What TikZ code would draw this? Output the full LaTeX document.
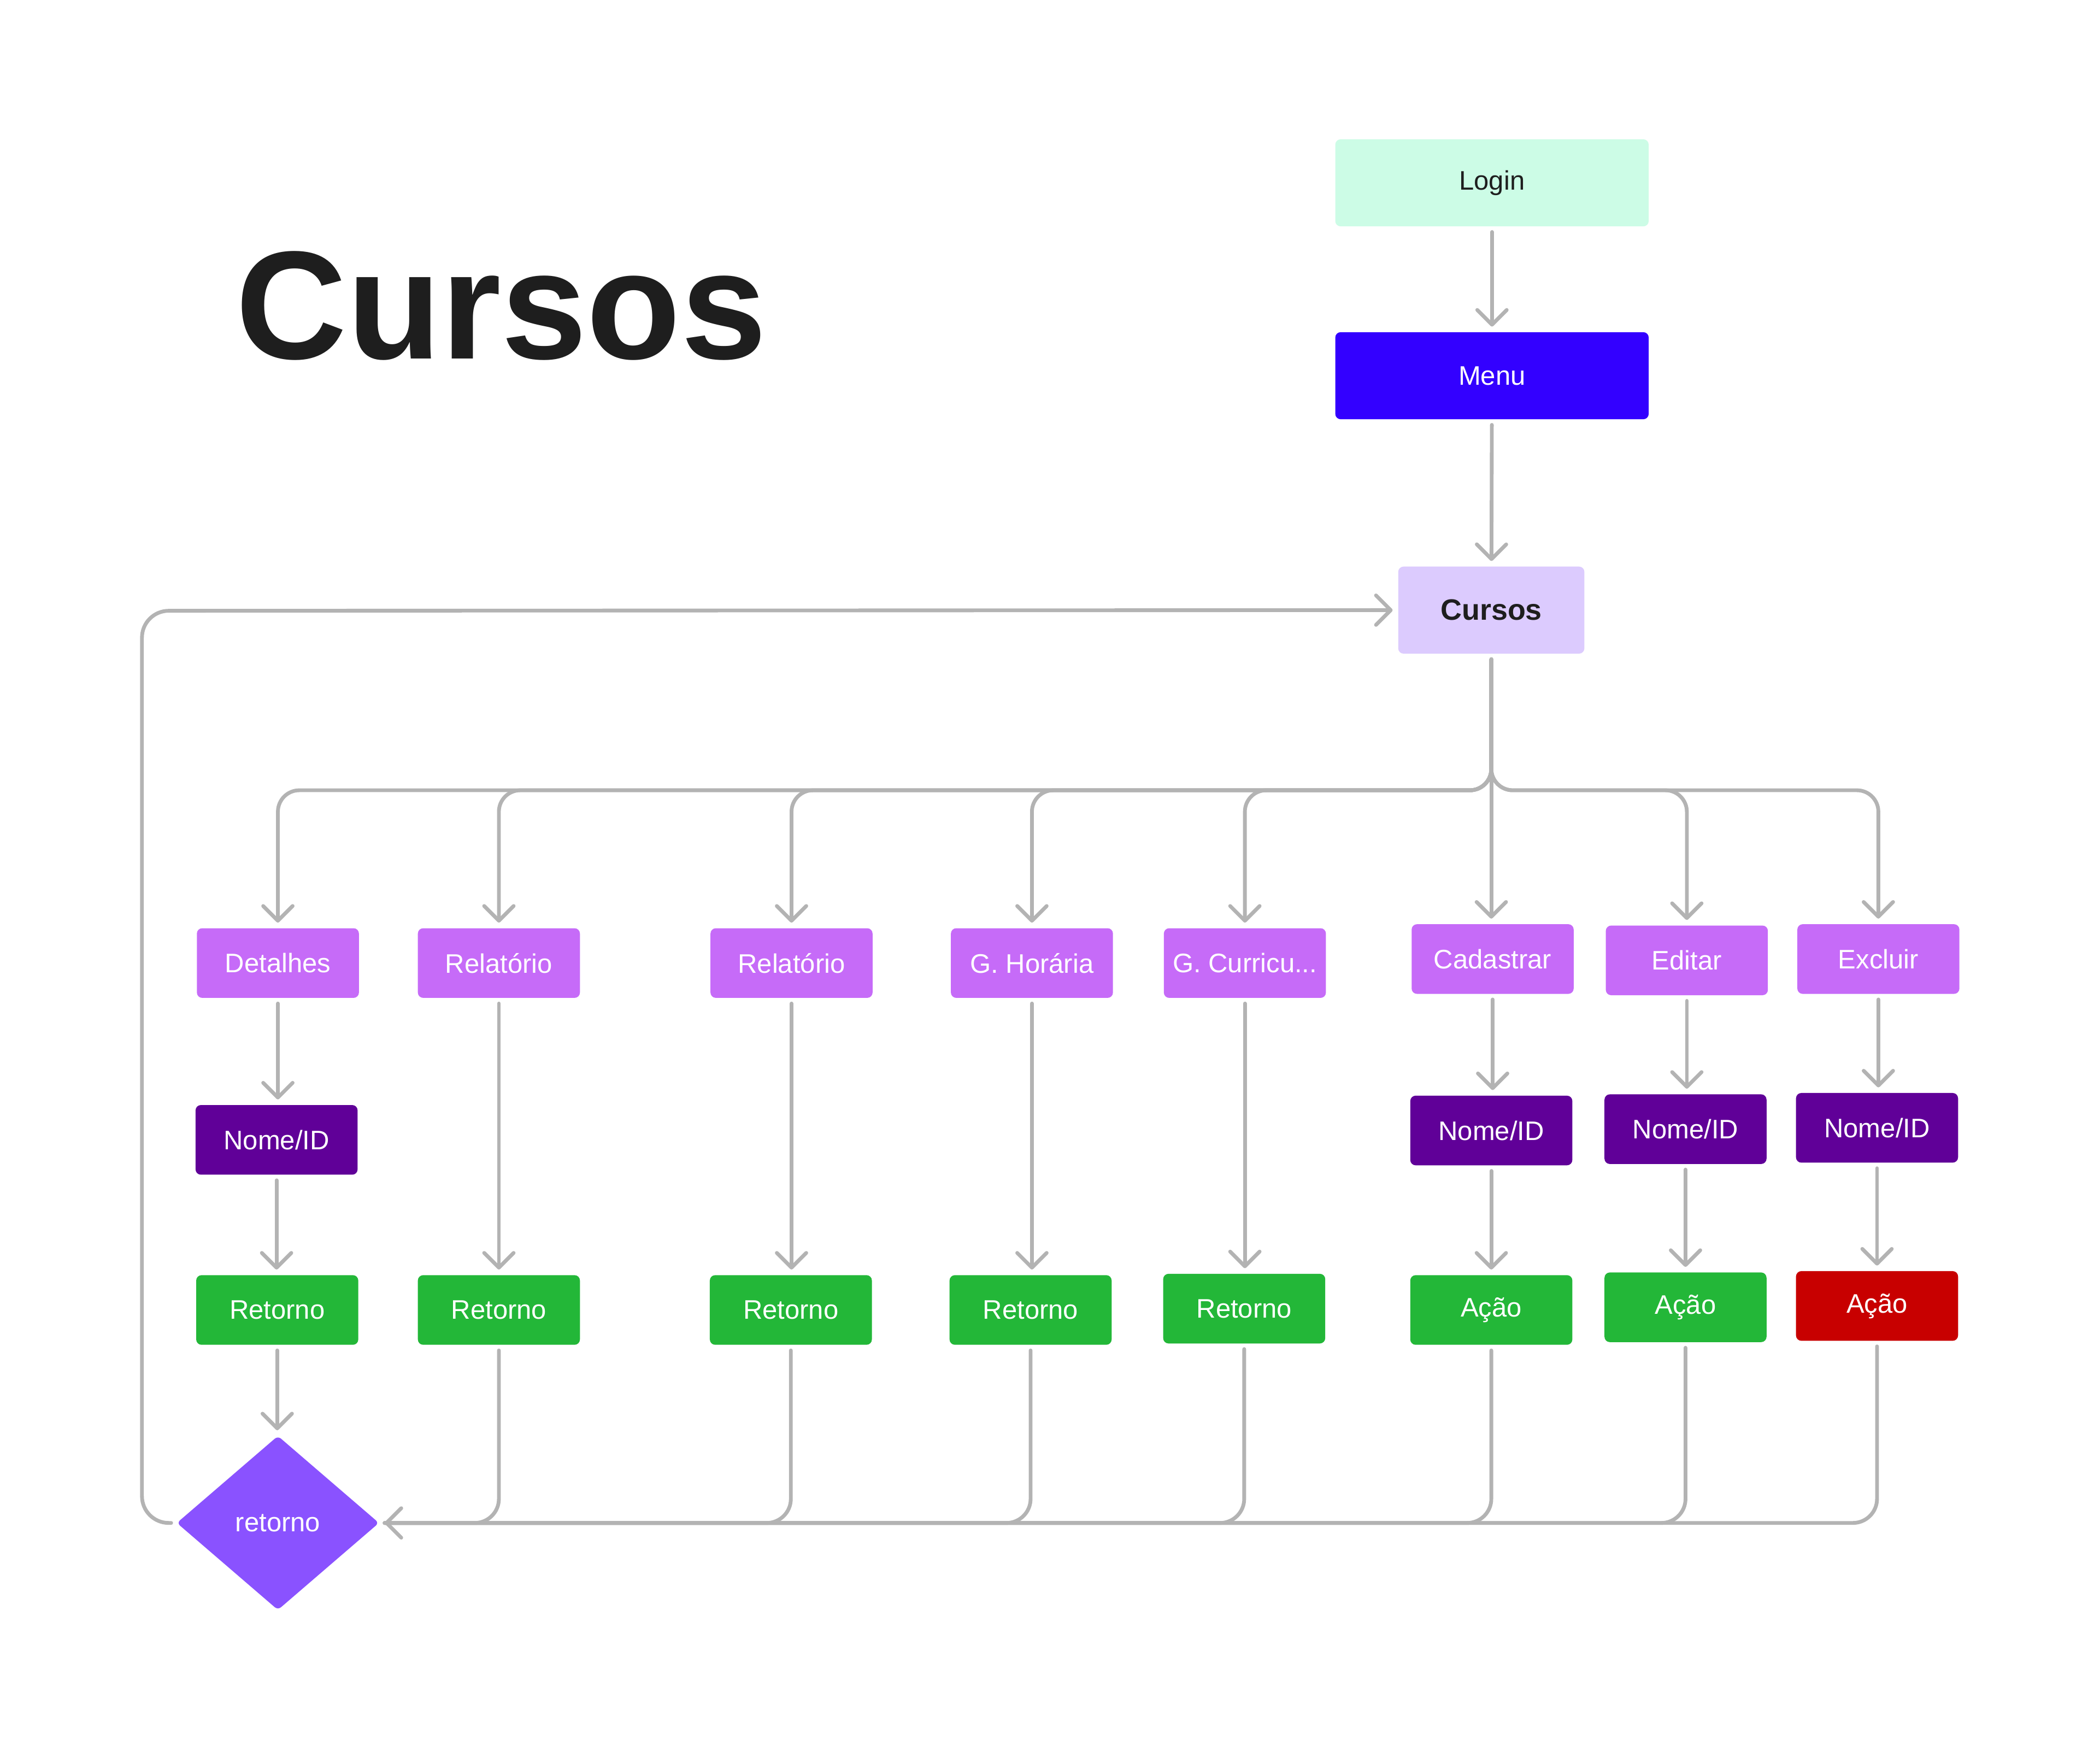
\documentclass[tikz,border=0pt]{standalone}
\usepackage{fontspec}
\setmainfont{Liberation Sans}
\usetikzlibrary{arrows.meta,shapes.geometric}

\definecolor{linegray}{HTML}{B3B3B3}
\definecolor{darktext}{HTML}{1E1E1E}
\definecolor{mint}{HTML}{CCFCE6}
\definecolor{menublue}{HTML}{3300FF}
\definecolor{lavender}{HTML}{DCCBFE}
\definecolor{optpurple}{HTML}{C66BF8}
\definecolor{idpurple}{HTML}{600098}
\definecolor{okgreen}{HTML}{23B738}
\definecolor{badred}{HTML}{C80000}
\definecolor{diapurple}{HTML}{8A52FF}

\tikzset{
  box/.style={rectangle, rounded corners=4pt, minimum width=121pt, minimum height=52pt,
    inner sep=0pt, text=white, font=\fontsize{20}{24}\selectfont},
  optbox/.style={box, fill=optpurple},
  idbox/.style={box, fill=idpurple},
  okbox/.style={box, fill=okgreen},
  conn/.style={draw=linegray, line width=2.8pt, line cap=round, shorten <=4pt, shorten >=4pt},
  arr/.style={conn, -{Straight Barb[length=11pt,width=22pt,round]}}
}

\begin{document}
\begin{tikzpicture}[x=1pt,y=-1pt]
\fill[white] (0,0) rectangle (1568,1307);

\node[anchor=base west, inner sep=0pt, text=darktext, font=\fontsize{115}{128}\selectfont\bfseries] (title) at (176,268) {Cursos};

\node[box, fill=mint, text=darktext, minimum width=234pt, minimum height=65pt] (login) at (1114,136.5) {Login};
\node[box, fill=menublue, minimum width=234pt, minimum height=65pt] (menu) at (1114,280.5) {Menu};
\node[box, fill=lavender, text=darktext, minimum width=139pt, minimum height=65pt, font=\fontsize{22}{26}\selectfont\bfseries] (cur) at (1113.5,455.5) {Cursos};

\node[optbox] (det) at (207.5,719) {Detalhes};
\node[optbox] (rel1) at (372.5,719) {Relatório};
\node[optbox] (rel2) at (591,719) {Relatório};
\node[optbox] (gh) at (770.5,719) {G. Horária};
\node[optbox] (gc) at (929.5,719) {G. Curricu...};
\node[optbox] (cad) at (1114.5,716) {Cadastrar};
\node[optbox] (edi) at (1259.5,717) {Editar};
\node[optbox] (exc) at (1402.5,716) {Excluir};

\node[idbox] (nid1) at (206.5,851) {Nome/ID};
\node[idbox] (nid2) at (1113.5,844) {Nome/ID};
\node[idbox] (nid3) at (1258.5,843) {Nome/ID};
\node[idbox] (nid4) at (1401.5,842) {Nome/ID};

\node[okbox] (ret1) at (207,978) {Retorno};
\node[okbox] (ret2) at (372.5,978) {Retorno};
\node[okbox] (ret3) at (590.5,978) {Retorno};
\node[okbox] (ret4) at (769.5,978) {Retorno};
\node[okbox] (ret5) at (929,977) {Retorno};
\node[okbox] (aca1) at (1113.5,978) {Ação};
\node[okbox] (aca2) at (1258.5,976) {Ação};
\node[box, fill=badred] (aca3) at (1401.5,975) {Ação};

\node[diamond, fill=diapurple, rounded corners=3pt, minimum width=151pt, minimum height=130pt, inner sep=0pt, text=white, font=\fontsize{20}{24}\selectfont] (dia) at (207.5,1137) {retorno};

\coordinate (bus) at (0,590);
\coordinate (loop) at (106,456);

\draw[arr] (login) -- (menu);
\draw[arr] (menu) -- (cur);

\draw[arr, rounded corners=16pt] (cur.south) -- (cur.south |- bus) -- (det.north |- bus) -- (det.north);
\draw[arr, rounded corners=16pt] (cur.south) -- (cur.south |- bus) -- (rel1.north |- bus) -- (rel1.north);
\draw[arr, rounded corners=16pt] (cur.south) -- (cur.south |- bus) -- (rel2.north |- bus) -- (rel2.north);
\draw[arr, rounded corners=16pt] (cur.south) -- (cur.south |- bus) -- (gh.north |- bus) -- (gh.north);
\draw[arr, rounded corners=16pt] (cur.south) -- (cur.south |- bus) -- (gc.north |- bus) -- (gc.north);
\draw[arr] (cur.south) -- (cur.south |- cad.north);
\draw[arr, rounded corners=16pt] (cur.south) -- (cur.south |- bus) -- (edi.north |- bus) -- (edi.north);
\draw[arr, rounded corners=16pt] (cur.south) -- (cur.south |- bus) -- (exc.north |- bus) -- (exc.north);

\draw[arr] (det.south) -- (det.south |- nid1.north);
\draw[arr] (nid1.south) -- (nid1.south |- ret1.north);
\draw[arr] (ret1.south) -- (ret1.south |- dia.north);
\draw[arr] (rel1.south) -- (rel1.south |- ret2.north);
\draw[arr] (rel2.south) -- (rel2.south |- ret3.north);
\draw[arr] (gh.south) -- (gh.south |- ret4.north);
\draw[arr] (gc.south) -- (gc.south |- ret5.north);
\draw[arr] (cad.south) -- (cad.south |- nid2.north);
\draw[arr] (nid2.south) -- (nid2.south |- aca1.north);
\draw[arr] (edi.south) -- (edi.south |- nid3.north);
\draw[arr] (nid3.south) -- (nid3.south |- aca2.north);
\draw[arr] (exc.south) -- (exc.south |- nid4.north);
\draw[arr] (nid4.south) -- (nid4.south |- aca3.north);

\draw[conn, rounded corners=18pt] (ret2.south) |- (dia.east);
\draw[conn, rounded corners=18pt] (ret3.south) |- (dia.east);
\draw[conn, rounded corners=18pt] (ret4.south) |- (dia.east);
\draw[conn, rounded corners=18pt] (ret5.south) |- (dia.east);
\draw[conn, rounded corners=18pt] (aca1.south) |- (dia.east);
\draw[conn, rounded corners=18pt] (aca2.south) |- (dia.east);
\draw[arr, rounded corners=18pt] (aca3.south) |- (dia.east);

\draw[arr, rounded corners=20pt] (dia.west) -| (loop) -- (cur.west);
\end{tikzpicture}
\end{document}
